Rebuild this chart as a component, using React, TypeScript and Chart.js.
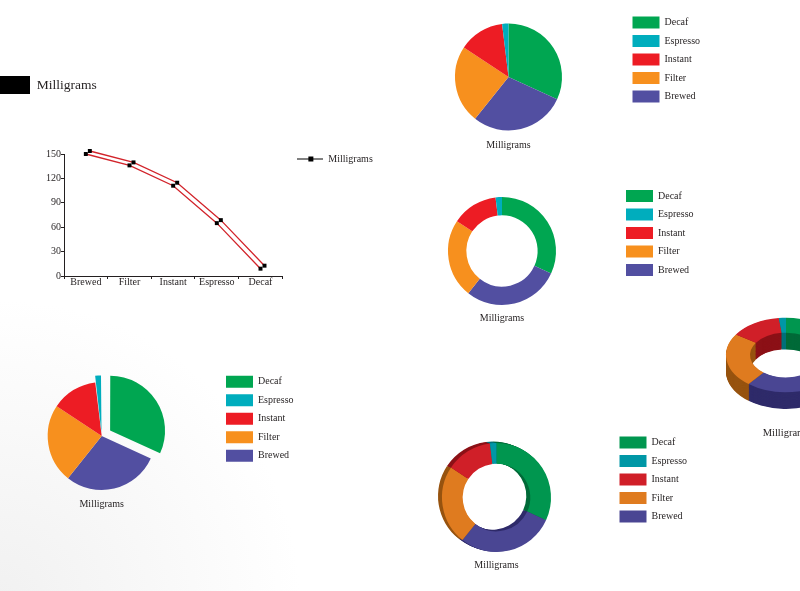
import React, { useEffect, useRef } from 'react';
import { Chart, registerables } from 'chart.js';

Chart.register(...registerables);

// ---------------- data ----------------
const seriesName = 'Milligrams';
const lineCategories = ['Brewed', 'Filter', 'Instant', 'Espresso', 'Decaf'];
const lineValues = [150, 136, 111, 65, 9];
const yTickValues = [0, 30, 60, 90, 120, 150];

// pie slices, in drawing order (clockwise from 12 o'clock)
const pieCategories = ['Decaf', 'Brewed', 'Filter', 'Instant', 'Espresso'];
const pieValues = [150, 136, 111, 65, 9];
// order in which the legends list the slices
const legendOrder = ['Decaf', 'Espresso', 'Instant', 'Filter', 'Brewed'];

// ---------------- styles ----------------
const FONT = "'Liberation Serif', 'Times New Roman', serif";
const INK = '#231f20';
const LINE_RED = '#d2232a';
const brightColors = ['#00a651', '#524fa1', '#f7901e', '#ed1c24', '#00adbd'];
const deepColors = ['#00964f', '#4a4693', '#df7b1f', '#d01f28', '#0097a6'];
const sideColors = ['#006a38', '#2f2b6a', '#97530f', '#8c1117', '#00707a'];
const explodeOffsets = [40, 0, 0, 0, 14];

function textWidth(texts: string[], size: number) {
  const g = document.createElement('canvas').getContext('2d') as CanvasRenderingContext2D;
  g.font = `normal ${size}px ${FONT}`;
  return Math.max(...texts.map((t) => g.measureText(t).width));
}

function arcPath(ctx: any, el: any) {
  const p = el.getProps(['x', 'y', 'startAngle', 'endAngle', 'innerRadius', 'outerRadius'], true);
  ctx.beginPath();
  ctx.arc(p.x, p.y, p.outerRadius, p.startAngle, p.endAngle);
  if (p.innerRadius > 0) ctx.arc(p.x, p.y, p.innerRadius, p.endAngle, p.startAngle, true);
  else ctx.lineTo(p.x, p.y);
  ctx.closePath();
}

// draws a displaced copy of every line dataset behind the original
const ribbonPlugin = {
  id: 'ribbon',
  beforeDatasetsDraw(chart: any, _a: any, opts: any) {
    const ctx = chart.ctx;
    const big = { left: -1e4, top: -1e4, right: 1e4, bottom: 1e4 };
    chart.getSortedVisibleDatasetMetas().forEach((meta: any) => {
      ctx.save();
      ctx.translate(opts.dx, opts.dy);
      if (meta.dataset) meta.dataset.draw(ctx, big);
      meta.data.forEach((pt: any) => pt.draw(ctx, big));
      ctx.restore();
    });
  },
};

function makeShadowPlugin(colors: string[], dx: number, dy: number, steps: number) {
  return {
    id: 'ringShadow',
    beforeDatasetsDraw(chart: any) {
      const ctx = chart.ctx;
      const meta = chart.getDatasetMeta(0);
      for (let i = steps; i >= 1; i--) {
        ctx.save();
        ctx.translate((dx * i) / steps, (dy * i) / steps);
        meta.data.forEach((el: any, j: number) => {
          arcPath(ctx, el);
          ctx.fillStyle = colors[j];
          ctx.fill();
        });
        ctx.restore();
      }
    },
  };
}

function makeTiltPlugin(k: number, depth: number, colors: string[]) {
  return {
    id: 'tilt',
    beforeDatasetsDraw(chart: any) {
      const ctx = chart.ctx;
      const meta = chart.getDatasetMeta(0);
      const cy = meta.data[0].getProps(['y'], true).y;
      ctx.save();
      ctx.translate(0, cy);
      ctx.scale(1, k);
      ctx.translate(0, -cy);
      const layers = Math.round(depth / k);
      for (let t = layers; t >= 1; t--) {
        ctx.save();
        ctx.translate(0, t);
        meta.data.forEach((el: any, j: number) => {
          arcPath(ctx, el);
          ctx.fillStyle = colors[j];
          ctx.fill();
        });
        ctx.restore();
      }
    },
    afterDatasetsDraw(chart: any) {
      chart.ctx.restore();
    },
  };
}

const legendSort = (a: any, b: any) => legendOrder.indexOf(a.text) - legendOrder.indexOf(b.text);

type Box = { L: number; T: number; W: number; H: number };

function pieConfig(p: any) {
  const lp = 6.5;
  const LH = 12;
  const fs = 10;
  const boxW = 27;
  const legendW = lp + boxW + fs / 2 + textWidth(legendOrder, fs) + 10;
  const legendLeft = p.bx - lp;
  const chartLeft = 2 * p.cx - legendLeft;
  const chartTop = p.by - lp;
  const chartBottom = 2 * p.cy - chartTop;
  const tPad = p.ty - chartBottom - LH / 2;
  const titleH = LH + tPad;
  const padding = {
    left: chartLeft - p.box.L,
    right: p.box.L + p.box.W - legendLeft - legendW,
    top: chartTop - p.box.T,
    bottom: p.box.T + p.box.H - chartBottom - titleH,
  };
  return {
    type: 'doughnut',
    data: {
      labels: pieCategories,
      datasets: [
        {
          label: seriesName,
          data: pieValues,
          backgroundColor: p.colors,
          borderWidth: 0,
          radius: p.r,
          cutout: p.cutout,
          offset: p.offsets || 0,
          clip: false,
        },
      ],
    },
    options: {
      responsive: false,
      animation: false,
      events: [],
      layout: { padding },
      plugins: {
        tooltip: { enabled: false },
        legend: {
          position: 'right',
          align: 'start',
          fullSize: false,
          labels: {
            boxWidth: boxW,
            boxHeight: 12,
            padding: lp,
            color: INK,
            font: { size: fs, family: FONT },
            sort: legendSort,
          },
        },
        title: {
          display: true,
          text: seriesName,
          position: 'bottom',
          fullSize: false,
          color: INK,
          padding: { top: tPad, bottom: 0 },
          font: { size: 10, family: FONT, weight: 'normal', lineHeight: LH + 'px' },
        },
      },
    },
    plugins: p.plugins || [],
  };
}

function tiltConfig() {
  const box: Box = boxTilt;
  const cx = 786;
  const cy = 355;
  const ty = 433;
  const LH = 12;
  const chartTop = 280;
  const chartBottom = 2 * cy - chartTop;
  const tPad = ty - chartBottom - LH / 2;
  const side = 2 * cx - 2 * box.L - box.W;
  return {
    type: 'doughnut',
    data: {
      labels: pieCategories,
      datasets: [
        {
          label: seriesName,
          data: pieValues,
          backgroundColor: deepColors,
          borderWidth: 0,
          radius: 60,
          cutout: '60%',
          clip: false,
        },
      ],
    },
    options: {
      responsive: false,
      animation: false,
      events: [],
      layout: {
        padding: {
          left: 20 + Math.max(side, 0),
          right: 20 + Math.max(-side, 0),
          top: chartTop - box.T,
          bottom: box.T + box.H - chartBottom - (LH + tPad),
        },
      },
      plugins: {
        tooltip: { enabled: false },
        legend: { display: false },
        title: {
          display: true,
          text: seriesName,
          position: 'bottom',
          fullSize: false,
          color: INK,
          padding: { top: tPad, bottom: 0 },
          font: { size: 10.5, family: FONT, weight: 'normal', lineHeight: LH + 'px' },
        },
      },
    },
    plugins: [makeTiltPlugin(0.62, 17, sideColors)],
  };
}

function makeMarker() {
  const c = document.createElement('canvas');
  c.width = 26;
  c.height = 7;
  const g = c.getContext('2d') as CanvasRenderingContext2D;
  g.fillStyle = '#000';
  g.fillRect(0, 3, 26, 1);
  g.fillRect(11, 1, 5, 5);
  return c;
}

function lineConfig() {
  const fs = 10;
  const tickFont = { size: fs, family: FONT };
  const lp = 15;
  const markW = 26;
  const legendW = lp + markW + textWidth([seriesName], fs) + 10;
  const chartRight = 281;
  return {
    type: 'line',
    data: {
      labels: lineCategories,
      datasets: [
        {
          label: seriesName,
          data: lineValues,
          borderColor: LINE_RED,
          borderWidth: 1.3,
          backgroundColor: '#000',
          pointStyle: 'rect',
          pointRadius: 2.8,
          pointBackgroundColor: '#000',
          pointBorderWidth: 0,
          tension: 0,
          fill: false,
          clip: false,
        },
      ],
    },
    options: {
      responsive: false,
      animation: false,
      events: [],
      layout: {
        padding: { top: 9, right: boxLine.L + boxLine.W - chartRight - legendW, bottom: 0, left: 0 },
      },
      plugins: {
        tooltip: { enabled: false },
        ribbon: { dx: 4, dy: -3 },
        title: { display: true, text: '', padding: 0, font: { size: 10, lineHeight: '15px' } },
        legend: {
          position: 'right',
          align: 'start',
          labels: {
            padding: lp,
            usePointStyle: true,
            pointStyle: makeMarker(),
            pointStyleWidth: markW,
            color: INK,
            font: tickFont,
          },
        },
      },
      scales: {
        x: {
          offset: true,
          grid: { offset: true, drawOnChartArea: false, tickLength: 3, color: INK },
          border: { color: INK, width: 1 },
          ticks: { padding: -3, color: INK, font: tickFont, maxRotation: 0 },
          afterFit: (s: any) => {
            s.height = 24;
          },
        },
        y: {
          min: yTickValues[0],
          max: yTickValues[yTickValues.length - 1],
          grid: { drawOnChartArea: false, tickLength: 3, color: INK },
          border: { color: INK, width: 1 },
          ticks: { padding: 0, color: INK, font: tickFont },
          afterBuildTicks: (s: any) => {
            s.ticks = yTickValues.map((v) => ({ value: v }));
          },
          afterFit: (s: any) => {
            s.width = 64;
          },
        },
      },
    },
    plugins: [ribbonPlugin],
  };
}

function headerConfig() {
  return {
    type: 'bar',
    data: {
      labels: [],
      datasets: [{ label: seriesName, data: [], backgroundColor: '#000', borderWidth: 0 }],
    },
    options: {
      responsive: false,
      animation: false,
      events: [],
      scales: { x: { display: false }, y: { display: false } },
      plugins: {
        tooltip: { enabled: false },
        legend: {
          position: 'top',
          align: 'start',
          labels: {
            boxWidth: 40,
            boxHeight: 18,
            padding: 10,
            color: INK,
            font: { size: 13.5, family: FONT },
          },
        },
      },
    },
  };
}

function ChartBox({ box, make }: { box: Box; make: () => any }) {
  const ref = useRef<HTMLCanvasElement>(null);
  useEffect(() => {
    const chart = new Chart(ref.current as HTMLCanvasElement, make());
    return () => chart.destroy();
  }, []);
  return (
    <canvas
      ref={ref}
      width={box.W}
      height={box.H}
      style={{ position: 'absolute', left: box.L, top: box.T, width: box.W, height: box.H }}
    />
  );
}

const boxHeader: Box = { L: -20, T: 66, W: 220, H: 60 };
const boxLine: Box = { L: 0, T: 130, W: 420, H: 170 };
const boxPieA: Box = { L: 380, T: 0, W: 400, H: 160 };
const boxRingB: Box = { L: 370, T: 170, W: 410, H: 170 };
const boxPieC: Box = { L: -30, T: 350, W: 410, H: 180 };
const boxRingD: Box = { L: 370, T: 410, W: 410, H: 180 };
const boxTilt: Box = { L: 650, T: 270, W: 272, H: 175 };

export default function App() {
  return (
    <div
      style={{
        position: 'fixed',
        left: 0,
        top: 0,
        width: 800,
        height: 591,
        overflow: 'hidden',
        background:
          'radial-gradient(circle at 0px 600px, #f1f1f1 0px, #f8f8f8 150px, #ffffff 300px)',
      }}
    >
      <ChartBox box={boxHeader} make={headerConfig} />
      <ChartBox box={boxLine} make={lineConfig} />
      <ChartBox
        box={boxPieA}
        make={() =>
          pieConfig({ box: boxPieA, cx: 508.5, cy: 77, r: 53.5, cutout: '0%', bx: 632.5, by: 16.5, ty: 145, colors: brightColors })
        }
      />
      <ChartBox
        box={boxRingB}
        make={() =>
          pieConfig({ box: boxRingB, cx: 502, cy: 251, r: 54, cutout: '66%', bx: 626, by: 190, ty: 318.3, colors: brightColors })
        }
      />
      <ChartBox
        box={boxPieC}
        make={() =>
          pieConfig({
            box: boxPieC,
            cx: 101.7,
            cy: 436,
            r: 54,
            cutout: '0%',
            bx: 226,
            by: 375.7,
            ty: 504.3,
            colors: brightColors,
            offsets: explodeOffsets,
          })
        }
      />
      <ChartBox
        box={boxRingD}
        make={() =>
          pieConfig({
            box: boxRingD,
            cx: 496.5,
            cy: 497.5,
            r: 54.5,
            cutout: '62%',
            bx: 619.5,
            by: 436.5,
            ty: 565,
            colors: deepColors,
            plugins: [makeShadowPlugin(sideColors, -4, -1.5, 4)],
          })
        }
      />
      <ChartBox box={boxTilt} make={tiltConfig} />
    </div>
  );
}
